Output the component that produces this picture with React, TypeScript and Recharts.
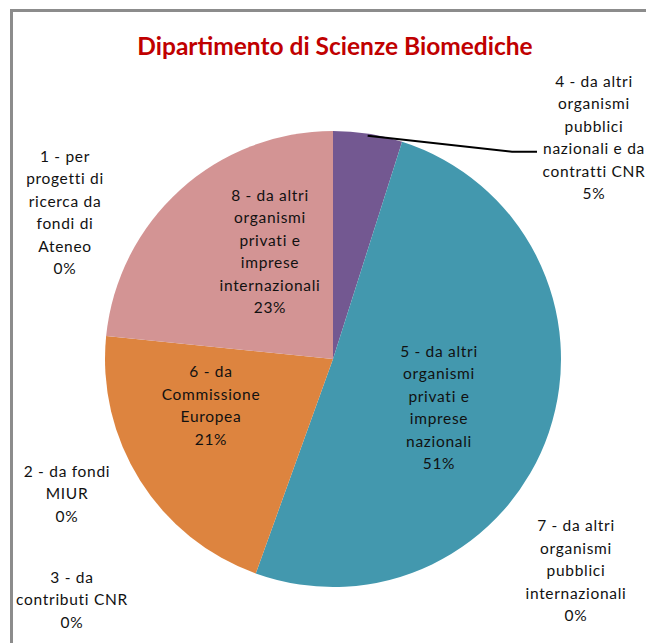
import { PieChart, Pie, Cell } from "recharts";

const title = "Dipartimento di Scienze Biomediche";

const categories = [
  "1 - per progetti di ricerca da fondi di Ateneo",
  "2 - da fondi MIUR",
  "3 - da contributi CNR",
  "4 - da altri organismi pubblici nazionali e da contratti CNR",
  "5 - da altri organismi privati e imprese nazionali",
  "6 - da Commissione Europea",
  "7 - da altri organismi pubblici internazionali",
  "8 - da altri organismi privati e imprese internazionali",
];

const values = [0, 0, 0, 4.9, 50.6, 21.1, 0, 23.4];

// how each category name wraps in the label
const labelLines = [
  ["1 - per", "progetti di", "ricerca da", "fondi di", "Ateneo"],
  ["2 - da fondi", "MIUR"],
  ["3 - da", "contributi CNR"],
  ["4 - da altri", "organismi", "pubblici", "nazionali e da", "contratti CNR"],
  ["5 - da altri", "organismi", "privati e", "imprese", "nazionali"],
  ["6 - da", "Commissione", "Europea"],
  ["7 - da altri", "organismi", "pubblici", "internazionali"],
  ["8 - da altri", "organismi", "privati e", "imprese", "internazionali"],
];

const colors = ["#4f81bd", "#c0504d", "#9bbb59", "#735891", "#4398ae", "#dd843f", "#95b3d7", "#d39494"];

// label block centre, relative to the pie centre
const labelOffsets: [number, number][] = [
  [-268, -147],
  [-266, 134],
  [-261, 240],
  [261, -222],
  [106, 48],
  [-122, 46],
  [243, 211],
  [-63, -108],
];

const data = categories.map((name, i) => ({ name, value: values[i] }));

const LINE_H = 22.5;
const RAD = Math.PI / 180;

const renderLabel = (props: any) => {
  const { cx, cy, index, percent, midAngle, outerRadius } = props;
  const lines = [...labelLines[index], `${Math.round(percent * 100)}%`];
  const [dx, dy] = labelOffsets[index];
  const x = cx + dx;
  const top = cy + dy - ((lines.length - 1) * LINE_H) / 2;
  let leader = null;
  if (index === 3) {
    const sx = cx + (outerRadius - 2) * Math.cos(-midAngle * RAD);
    const sy = cy + (outerRadius - 2) * Math.sin(-midAngle * RAD);
    const ey = top + 3 * LINE_H + 3.5;
    leader = (
      <polyline
        points={`${sx},${sy} ${cx + 179},${ey} ${cx + 204},${ey}`}
        fill="none"
        stroke="#000"
        strokeWidth={2}
      />
    );
  }
  return (
    <g key={`lbl-${index}`}>
      {leader}
      <text
        x={x}
        y={top}
        textAnchor="middle"
        dominantBaseline="central"
        fill="#111"
        style={{ fontFamily: "Lato, 'Open Sans', sans-serif", fontSize: 15.5, letterSpacing: 0.7 }}
      >
        {lines.map((l, i) => (
          <tspan key={i} x={x} y={top + i * LINE_H} dominantBaseline="central">
            {l}
          </tspan>
        ))}
      </text>
    </g>
  );
};

export default function App() {
  return (
    <div
      style={{
        position: "absolute",
        left: 0,
        top: 0,
        width: 646,
        height: 643,
        background: "#fff",
        overflow: "hidden",
      }}
    >
      <div
        style={{
          position: "absolute",
          left: 10,
          top: 9,
          width: 700,
          height: 700,
          borderTop: "3px solid #8c8c8c",
          borderLeft: "3px solid #8c8c8c",
        }}
      />
      <div
        style={{
          position: "absolute",
          left: 0,
          top: 31,
          width: 670,
          textAlign: "center",
          fontFamily: "Lato, 'Open Sans', sans-serif",
          fontWeight: 700,
          fontSize: 24.5,
          color: "#c00000",
        }}
      >
        {title}
      </div>
      <PieChart
        width={646}
        height={643}
        margin={{ top: 0, right: 0, bottom: 0, left: 0 }}
        style={{ position: "absolute", left: 0, top: 0 }}
      >
        <Pie
          data={data}
          dataKey="value"
          nameKey="name"
          cx={333}
          cy={359}
          outerRadius={228}
          startAngle={90}
          endAngle={-270}
          stroke="none"
          label={renderLabel}
          labelLine={false}
          isAnimationActive={false}
        >
          {data.map((d, i) => (
            <Cell key={d.name} fill={colors[i]} />
          ))}
        </Pie>
      </PieChart>
    </div>
  );
}
